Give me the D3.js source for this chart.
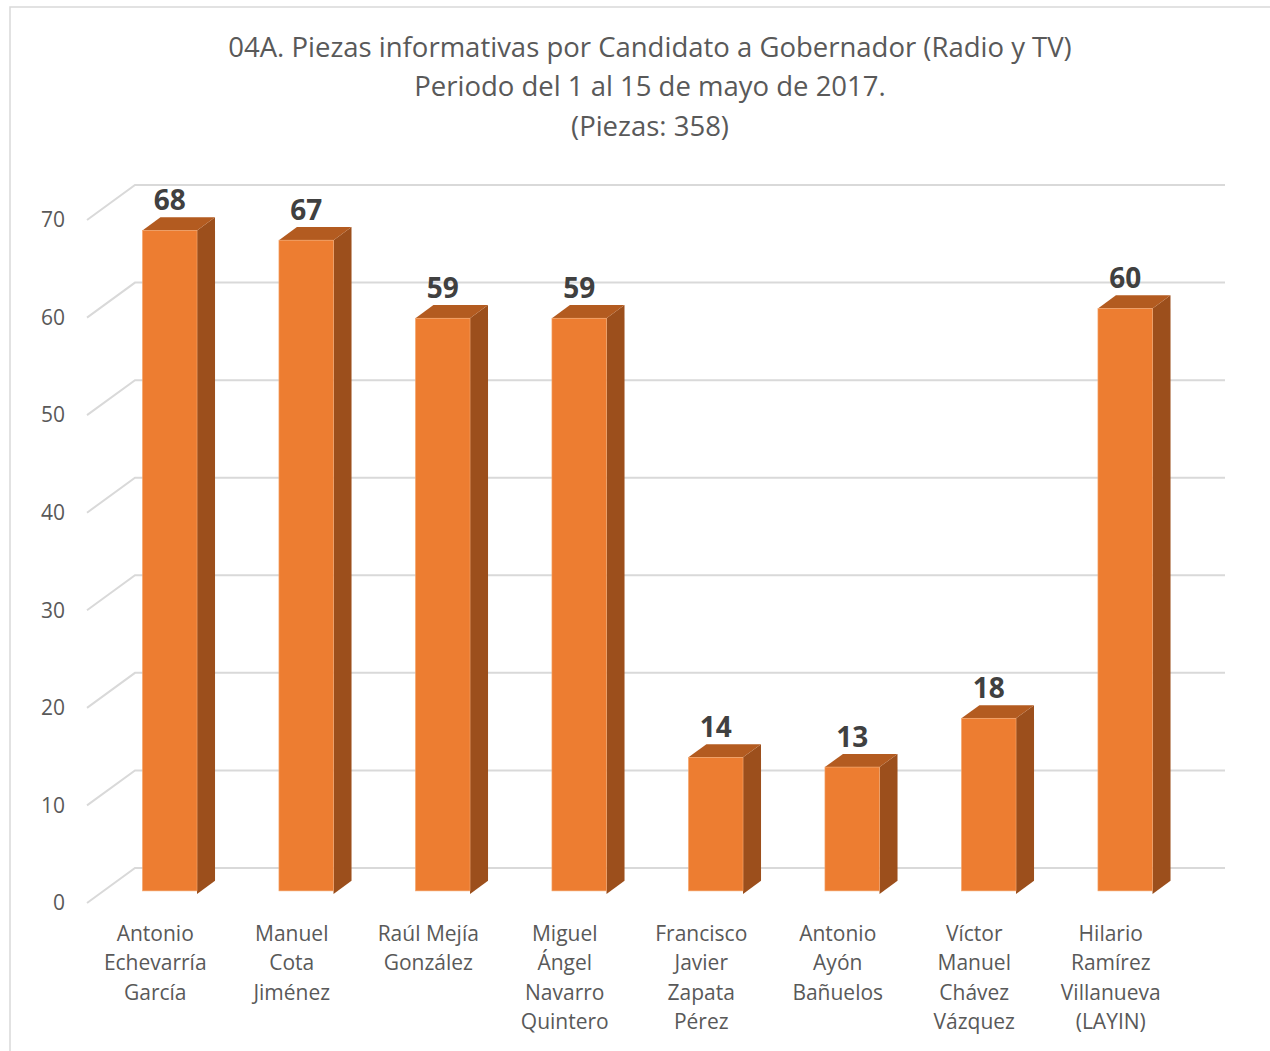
<!DOCTYPE html>
<html><head><meta charset="utf-8">
<script src="https://cdn.jsdelivr.net/npm/d3@7"></script>
<style>html,body{margin:0;padding:0;background:#fff;}svg{display:block;font-family:"Open Sans",sans-serif;}</style>
</head><body><svg id="c" width="1270" height="1051"></svg>
<script>
const titleLines = ["04A. Piezas informativas por Candidato a Gobernador (Radio y TV)", "Periodo del 1 al 15 de mayo de 2017.", "(Piezas: 358)"];
const categories = [
  ["Antonio","Echevarría","García"],
  ["Manuel","Cota","Jiménez"],
  ["Raúl Mejía","González"],
  ["Miguel","Ángel","Navarro","Quintero"],
  ["Francisco","Javier","Zapata","Pérez"],
  ["Antonio","Ayón","Bañuelos"],
  ["Víctor","Manuel","Chávez","Vázquez"],
  ["Hilario","Ramírez","Villanueva","(LAYIN)"]
];
const values = [68, 67, 59, 59, 14, 13, 18, 60];
const yTicks = [0, 10, 20, 30, 40, 50, 60, 70];

const svg = d3.select("#c");
// chart border
svg.append("rect").attr("x",10).attr("y",7).attr("width",1300).attr("height",1100)
  .attr("fill","none").attr("stroke","#d9d9d9").attr("stroke-width",1.5);

// oblique 3D projection
const DX = 48, DY = 35;
const y = d3.scaleLinear().domain([0,70]).range([903,220]);
const x = d3.scaleBand().domain(d3.range(categories.length)).range([89,1181]).paddingInner(0.6).paddingOuter(0.3);
const proj = (px, v, z) => [px + z*DX, y(v) - z*DY];

// gridlines: left wall diagonal + back wall
const floorL = 87, floorR = 1177;
const g = svg.append("g");
yTicks.forEach(t => {
  const a = proj(floorL, t, 0), b = proj(floorL, t, 1), c = proj(floorR, t, 1);
  g.append("polyline").attr("points",[a,b,c].map(p=>p.join(",")).join(" "))
    .attr("fill","none").attr("stroke","#d9d9d9").attr("stroke-width",2);
});

// y tick labels
svg.append("g").selectAll("text").data(yTicks).join("text")
  .attr("x",65).attr("y",d=>y(d)).attr("dy","0.35em").attr("text-anchor","end")
  .attr("font-size",21).attr("fill","#595959").text(d=>d);

// bars
const z0 = 0.26, z1 = 0.635;
const bars = svg.append("g");
values.forEach((v,i) => {
  const xl = x(i), xr = x(i)+x.bandwidth();
  const poly = pts => pts.map(p=>p.join(",")).join(" ");
  bars.append("polygon").attr("points", poly([proj(xr,0,z0),proj(xr,0,z1),proj(xr,v,z1),proj(xr,v,z0)]))
    .attr("fill","#9c4f1c");
  bars.append("polygon").attr("points", poly([proj(xl,v,z0),proj(xl,v,z1),proj(xr,v,z1),proj(xr,v,z0)]))
    .attr("fill","#b35b20");
  const f0 = proj(xl,v,z0), f1 = proj(xr,0,z0);
  bars.append("rect").attr("x",f0[0]).attr("y",f0[1]).attr("width",f1[0]-f0[0]).attr("height",f1[1]-f0[1]-3)
    .attr("fill","#ed7d31").attr("stroke","#f3a871").attr("stroke-width",0.6);
  const tb = proj(xl,v,z1);
  svg.append("text").attr("x",(f0[0]+f1[0])/2).attr("y",tb[1]-7).attr("text-anchor","middle")
    .attr("font-size",28).attr("font-weight","bold").attr("fill","#404040").text(v);
});

// category labels
const cl = svg.append("g");
categories.forEach((lines,i) => {
  const cx = x(i) + x.bandwidth()/2 - 2;
  const t = cl.append("text").attr("text-anchor","middle").attr("font-size",21).attr("fill","#595959");
  lines.forEach((ln,j) => t.append("tspan").attr("x",cx).attr("y",941 + j*29.4).text(ln));
});

// title
const tt = svg.append("text").attr("text-anchor","middle").attr("font-size",27.5).attr("fill","#595959");
titleLines.forEach((ln,j) => tt.append("tspan").attr("x",650).attr("y",57 + j*39.3).text(ln));
</script></body></html>
